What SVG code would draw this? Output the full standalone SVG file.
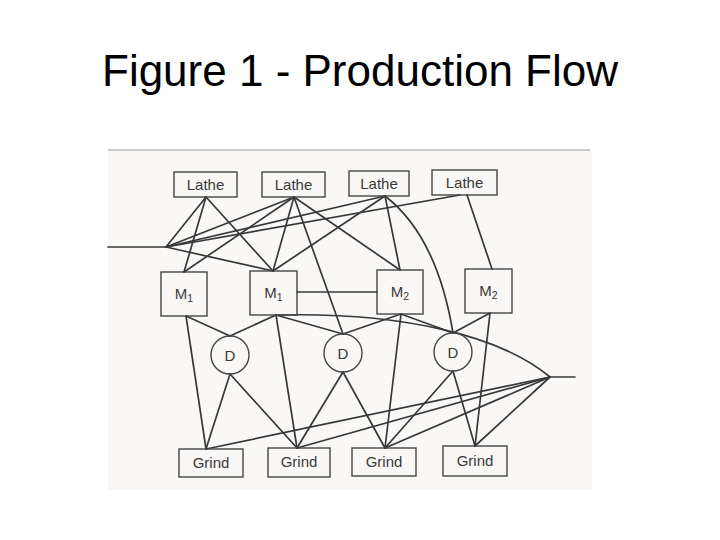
<svg xmlns="http://www.w3.org/2000/svg" width="720" height="540" viewBox="0 0 720 540">
<style>
.title{font-family:"Liberation Sans",Arial,sans-serif;font-size:44px;fill:#000}
.lbl{font-family:"Liberation Sans",Arial,sans-serif;font-size:15px;fill:#3a3a3a;text-anchor:middle}
.sub{font-size:10.5px}
.box{fill:none;stroke:#454545;stroke-width:1.4}
.c{fill:none;stroke:#383838;stroke-width:1.7;stroke-linecap:round}
</style>
<rect x="0" y="0" width="720" height="540" fill="#ffffff"/>
<rect x="108" y="150" width="484" height="340" fill="#f9f8f6"/>
<line x1="108" y1="150" x2="590" y2="150" stroke="#9a9a9a" stroke-width="1.2"/>
<text class="title" x="360" y="86" text-anchor="middle">Figure 1 - Production Flow</text>

<g id="connectors">
<line class="c" x1="108" y1="247" x2="166" y2="247"/>
<line class="c" x1="166" y1="247" x2="206" y2="197"/>
<line class="c" x1="166" y1="247" x2="294" y2="197"/>
<line class="c" x1="166" y1="247" x2="385" y2="196"/>
<line class="c" x1="166" y1="247" x2="460" y2="195"/>
<line class="c" x1="166" y1="247" x2="273" y2="271"/>
<line class="c" x1="206" y1="197" x2="184" y2="272"/>
<line class="c" x1="206" y1="197" x2="273" y2="271"/>
<line class="c" x1="294" y1="197" x2="184" y2="272"/>
<line class="c" x1="294" y1="197" x2="273" y2="271"/>
<line class="c" x1="294" y1="197" x2="400" y2="270"/>
<line class="c" x1="294" y1="197" x2="343" y2="334"/>
<line class="c" x1="385" y1="196" x2="273" y2="271"/>
<line class="c" x1="385" y1="196" x2="400" y2="270"/>
<path class="c" d="M385,196 Q437,236 453,333"/>
<line class="c" x1="467" y1="195" x2="492" y2="269"/>
<line class="c" x1="297" y1="292" x2="377" y2="292"/>
<line class="c" x1="186" y1="316" x2="230" y2="336"/>
<line class="c" x1="186" y1="316" x2="206" y2="449"/>
<line class="c" x1="276" y1="315" x2="230" y2="336"/>
<line class="c" x1="276" y1="315" x2="343" y2="334"/>
<line class="c" x1="276" y1="315" x2="297" y2="448"/>
<line class="c" x1="401" y1="314" x2="343" y2="334"/>
<line class="c" x1="401" y1="314" x2="453" y2="333"/>
<line class="c" x1="401" y1="314" x2="385" y2="448"/>
<line class="c" x1="490" y1="313" x2="453" y2="333"/>
<line class="c" x1="490" y1="313" x2="475" y2="446"/>
<path class="c" d="M278,315 C400,312 500,335 550,377"/>
<line class="c" x1="230" y1="374" x2="206" y2="449"/>
<line class="c" x1="230" y1="374" x2="297" y2="448"/>
<line class="c" x1="343" y1="372" x2="297" y2="448"/>
<line class="c" x1="343" y1="372" x2="385" y2="448"/>
<line class="c" x1="453" y1="371" x2="385" y2="448"/>
<line class="c" x1="453" y1="371" x2="475" y2="446"/>
<line class="c" x1="206" y1="449" x2="550" y2="377"/>
<line class="c" x1="297" y1="448" x2="550" y2="377"/>
<line class="c" x1="385" y1="448" x2="550" y2="377"/>
<line class="c" x1="475" y1="446" x2="550" y2="377"/>
<line class="c" x1="550" y1="377" x2="575" y2="377"/>
</g>

<g id="lathe1"><rect class="box" x="174" y="172" width="63" height="25"/><text class="lbl" x="205.5" y="190">Lathe</text></g>
<g id="lathe2"><rect class="box" x="262" y="172" width="63" height="25"/><text class="lbl" x="293.5" y="190">Lathe</text></g>
<g id="lathe3"><rect class="box" x="349" y="171" width="60" height="25"/><text class="lbl" x="379" y="189">Lathe</text></g>
<g id="lathe4"><rect class="box" x="432" y="170" width="65" height="25"/><text class="lbl" x="464.5" y="188">Lathe</text></g>

<g id="m1a"><rect class="box" x="161" y="272" width="46" height="44" fill="#f9f8f6"/><text class="lbl" x="184" y="299">M<tspan class="sub" dy="3">1</tspan></text></g>
<g id="m1b"><rect class="box" x="250" y="271" width="47" height="44" fill="#f9f8f6"/><text class="lbl" x="273.5" y="298">M<tspan class="sub" dy="3">1</tspan></text></g>
<g id="m2a"><rect class="box" x="377" y="270" width="46" height="44" fill="#f9f8f6"/><text class="lbl" x="400" y="297">M<tspan class="sub" dy="3">2</tspan></text></g>
<g id="m2b"><rect class="box" x="465" y="269" width="47" height="44" fill="#f9f8f6"/><text class="lbl" x="488.5" y="296">M<tspan class="sub" dy="3">2</tspan></text></g>

<g id="d1"><circle class="box" cx="230" cy="355" r="19" fill="#f9f8f6"/><text class="lbl" x="230" y="360.5">D</text></g>
<g id="d2"><circle class="box" cx="343" cy="353" r="19" fill="#f9f8f6"/><text class="lbl" x="343" y="358.5">D</text></g>
<g id="d3"><circle class="box" cx="453" cy="352" r="19" fill="#f9f8f6"/><text class="lbl" x="453" y="357.5">D</text></g>

<g id="grind1"><rect class="box" x="179" y="449" width="64" height="28"/><text class="lbl" x="211" y="468">Grind</text></g>
<g id="grind2"><rect class="box" x="268" y="448" width="62" height="29"/><text class="lbl" x="299" y="467">Grind</text></g>
<g id="grind3"><rect class="box" x="352" y="448" width="64" height="28"/><text class="lbl" x="384" y="467">Grind</text></g>
<g id="grind4"><rect class="box" x="443" y="446" width="64" height="30"/><text class="lbl" x="475" y="466">Grind</text></g>
</svg>
